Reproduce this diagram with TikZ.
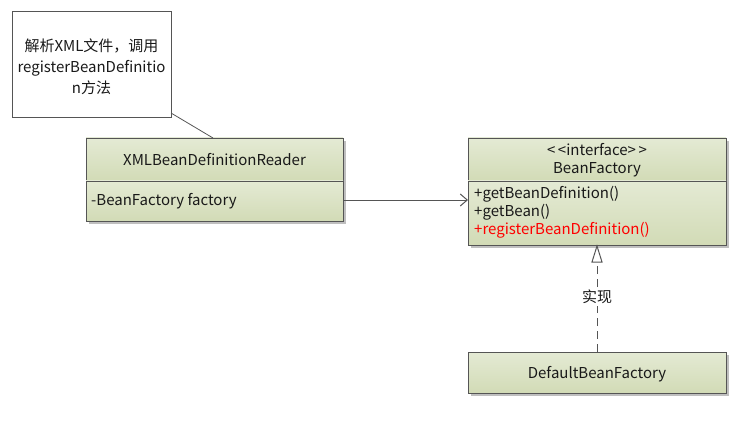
\documentclass[tikz,border=0pt]{standalone}
\usepackage{fontspec}
\setmainfont{Noto Sans CJK SC}
\usetikzlibrary{arrows.meta}
\definecolor{boxtop}{HTML}{E4EAD4}
\definecolor{boxbot}{HTML}{D2DBB6}
\definecolor{edge}{HTML}{555555}
\tikzset{
  comp/.style={draw=edge, line width=0.8pt, top color=boxtop, bottom color=boxbot},
  shad/.style={fill=black!25, draw=none},
  txt/.style={font=\fontsize{15}{18}\selectfont, text=black!90, inner sep=0pt, text height=13pt, text depth=2pt},
  note/.style={draw=edge, line width=0.8pt, fill=white},
}
\begin{document}
\begin{tikzpicture}[x=1pt,y=-1pt]
\useasboundingbox (0,0) rectangle (750,433);
% shadows
\fill[shad] (89,141) rectangle (346,224);
\fill[shad] (471,141) rectangle (729,248);
\fill[shad] (471,355) rectangle (729,396);
% note
\draw[note] (12,11) rectangle (171,117);
\node[txt] (note1) at (91.5,46) {解析XML文件，调用};
\node[txt] (note2) at (91.5,67) {registerBeanDefinitio};
\node[txt] (note3) at (91.5,88) {n方法};
\coordinate (noteC) at (171,113);
% reader
\draw[comp] (86,138) rectangle (343,181);
\draw[comp] (86,181) rectangle (343,221);
\node[txt] (readerName) at (214.5,159.5) {XMLBeanDefinitionReader};
\node[txt, anchor=west] (readerAttr) at (91,200) {-BeanFactory factory};
\coordinate (readerTop) at (213,138);
\coordinate (readerR) at (343,200);
% bean factory
\draw[comp] (468,138) rectangle (726,181);
\draw[comp] (468,181) rectangle (726,245);
\node[txt] (bfStereo) at (597,150) {{<}\,{<}interface{>}\,{>}};
\node[txt] (bfName) at (597,168) {BeanFactory};
\node[txt, anchor=west] (bfOp1) at (474,193) {+getBeanDefinition()};
\node[txt, anchor=west] (bfOp2) at (474,211) {+getBean()};
\node[txt, anchor=west, text=red] (bfOp3) at (474,229) {+registerBeanDefinition()};
\coordinate (bfL) at (468,200);
\coordinate (bfB) at (597,245);
% default
\draw[comp] (468,352) rectangle (726,393);
\node[txt] (dbf) at (597,372.5) {DefaultBeanFactory};
\coordinate (dbfT) at (597,352);
% connectors
\draw[edge, line width=0.8pt] (noteC) -- (readerTop);
\draw[edge, line width=1pt, -{Straight Barb[length=7pt,width=12pt]}] (readerR) -- (bfL);
\draw[edge, line width=1pt, dash pattern=on 8pt off 5pt] (dbfT) -- (597,262);
\draw[edge, line width=1pt, fill=white] (597,262) -- (592,262) -- (597,246) -- (602,262) -- cycle;
\node[txt, fill=white, inner sep=1pt] (impl) at (597,297) {实现};
\end{tikzpicture}
\end{document}
